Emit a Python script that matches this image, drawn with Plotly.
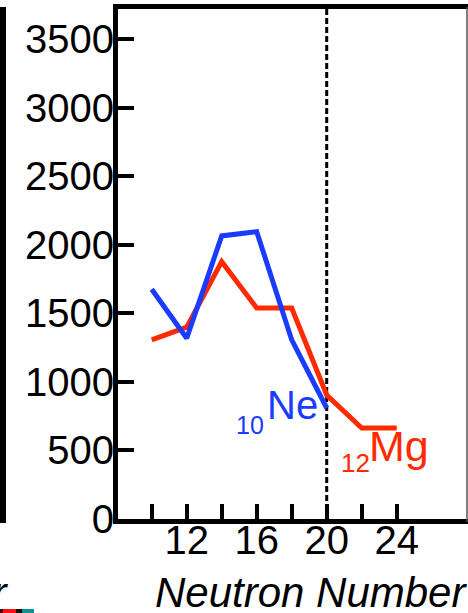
import plotly.graph_objects as go

# Data
neutrons_ne = [10, 12, 14, 16, 18, 20]
values_ne = [1677, 1319, 2066, 2097, 1307, 810]
neutrons_mg = [10, 12, 14, 16, 18, 20, 22, 24]
values_mg = [1307, 1400, 1878, 1540, 1540, 905, 664, 664]
x_tickvals = [10, 12, 14, 16, 18, 20, 22, 24]
x_ticktext = ["", "12", "", "16", "", "20", "", "24"]
y_tickvals = [0, 500, 1000, 1500, 2000, 2500, 3000, 3500]
shell_closure = 20

BLUE = "#1a3cff"
RED = "#ff2a00"
FONT = "Liberation Sans, Arial, sans-serif"

W, H = 468, 613
L, R, T, B = 118, 0, 9, 94
PW, PH = W - L - R, H - T - B

def px(x):
    return (x - L) / PW

def py(y):
    return (H - B - y) / PH

fig = go.Figure()
fig.add_trace(go.Scatter(x=neutrons_mg, y=values_mg, mode="lines",
                         line=dict(color=RED, width=5), showlegend=False, hoverinfo="skip"))
fig.add_trace(go.Scatter(x=neutrons_ne, y=values_ne, mode="lines",
                         line=dict(color=BLUE, width=5), showlegend=False, hoverinfo="skip"))

# dashed N=20 line
fig.add_shape(type="line", xref="x", yref="paper", x0=shell_closure, x1=shell_closure,
              y0=0, y1=1, line=dict(color="black", width=3, dash="6px,3px"), layer="below")

# element labels
fig.add_annotation(x=16.5, y=832, xref="x", yref="y", text="Ne", showarrow=False,
                   xanchor="left", yanchor="middle", font=dict(family=FONT, size=40, color=BLUE))
fig.add_annotation(x=14.7, y=686, xref="x", yref="y", text="10", showarrow=False,
                   xanchor="left", yanchor="middle", font=dict(family=FONT, size=25, color=BLUE))
fig.add_annotation(x=22.3, y=535, xref="x", yref="y", text="Mg", showarrow=False,
                   xanchor="left", yanchor="middle", font=dict(family=FONT, size=43, color=RED))
fig.add_annotation(x=20.7, y=412, xref="x", yref="y", text="12", showarrow=False,
                   xanchor="left", yanchor="middle", font=dict(family=FONT, size=26, color=RED))

# axis title (italic, partially cut)
fig.add_annotation(x=px(153), y=py(592), xref="paper", yref="paper", text="<i>Neutron Number</i>",
                   showarrow=False, xanchor="left", yanchor="middle",
                   font=dict(family=FONT, size=42, color="black"))
# neighbouring panel's title tail
fig.add_annotation(x=px(10), y=py(592), xref="paper", yref="paper", text="<i>Neutron Number</i>",
                   showarrow=False, xanchor="right", yanchor="middle",
                   font=dict(family=FONT, size=42, color="black"))

# neighbouring panel's frame edge
fig.add_shape(type="line", xref="paper", yref="paper", x0=px(3), x1=px(3), y0=py(523), y1=py(7),
              line=dict(color="black", width=6))
# right edge thin line
fig.add_shape(type="line", xref="paper", yref="paper", x0=px(467), x1=px(467), y0=py(522), y1=py(7),
              line=dict(color="#555555", width=1.5))
# tiny colour strip of neighbouring legend
for x0, x1, c in [(0, 3, "#400000"), (3, 16, "#ff1010"), (16, 22, "#101010"), (22, 34, "#109090")]:
    fig.add_shape(type="rect", xref="paper", yref="paper", x0=px(x0), x1=px(x1),
                  y0=py(613), y1=py(609), line=dict(width=0), fillcolor=c)

fig.update_layout(
    width=W, height=H,
    margin=dict(l=L, r=R, t=T, b=B, pad=0, autoexpand=False),
    paper_bgcolor="white", plot_bgcolor="white",
    font=dict(family=FONT, size=40, color="black"),
    hovermode=False,
    xaxis=dict(range=[8.074, 28.074], tickvals=x_tickvals, ticktext=x_ticktext,
               ticks="inside", ticklen=15, tickwidth=4, tickcolor="black",
               showline=True, linewidth=5, linecolor="black", mirror=True,
               showgrid=False, zeroline=False, tickfont=dict(size=40), automargin=False,
               ticklabelstandoff=-18),
    yaxis=dict(range=[0, 3722], tickvals=y_tickvals,
               ticks="inside", ticklen=16, tickwidth=4, tickcolor="black",
               showline=True, linewidth=5, linecolor="black",
               showgrid=False, zeroline=False, tickfont=dict(size=40),
               ticklabelstandoff=-9, automargin=False),
)

fig.write_html("out.html", config={"displayModeBar": False},
               post_script="document.body.style.margin='0';")
